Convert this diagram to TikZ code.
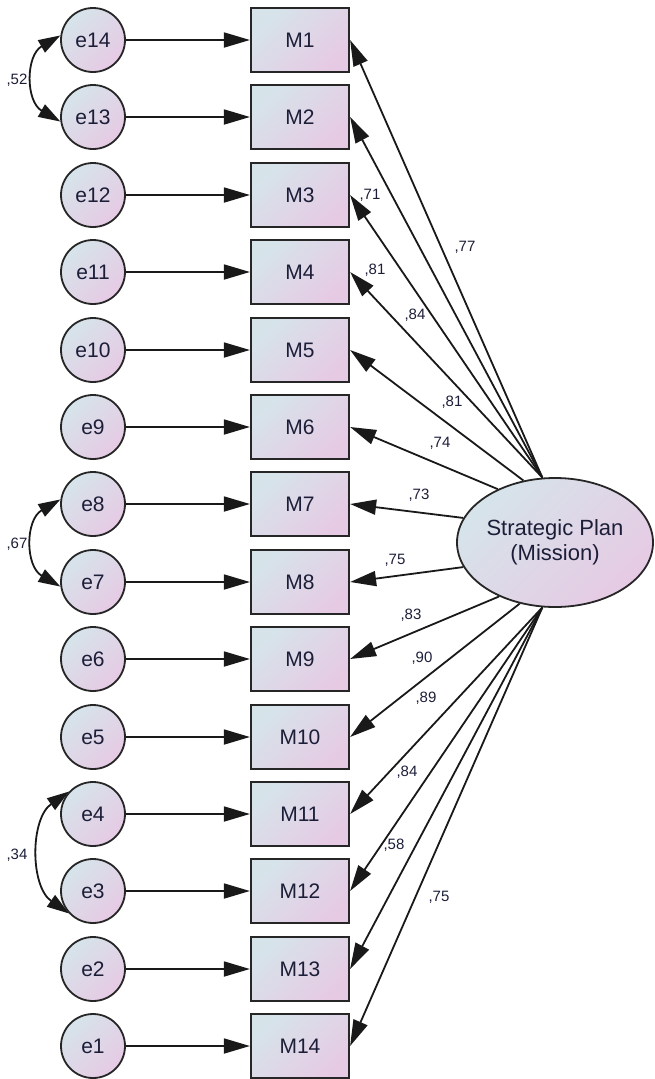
\documentclass[tikz,border=0pt]{standalone}
\usepackage{fontspec}
\setmainfont{Liberation Sans}
\usetikzlibrary{arrows.meta,shapes.geometric}

\definecolor{fillA}{RGB}{214,228,234}
\definecolor{fillB}{RGB}{230,202,228}
\definecolor{ink}{RGB}{28,30,56}
\definecolor{edge}{RGB}{38,38,38}

\tikzset{
  gradfill/.style={top color=fillA, bottom color=fillB, shading angle=45},
  obsbox/.style={draw=edge, line width=2.2pt, gradfill, minimum width=98pt,
    minimum height=64pt, inner sep=0pt, text=ink,
    font=\fontsize{21}{25}\selectfont},
  errnode/.style={circle, draw=edge, line width=1.8pt, gradfill,
    minimum size=64pt, inner sep=0pt, text=ink,
    font=\fontsize{21}{25}\selectfont},
  latent/.style={ellipse, draw=edge, line width=1.8pt, gradfill,
    minimum width=196pt, minimum height=129pt, inner sep=0pt, align=center,
    text=ink, font=\fontsize{22}{25}\selectfont},
  causal/.style={draw=black!90, line width=1.8pt,
    -{Triangle[length=26pt,width=15pt]}},
  covpath/.style={draw=black!90, line width=1.8pt,
    {Triangle[length=22pt,width=14pt]}-{Triangle[length=22pt,width=14pt]}},
  wt/.style={font=\fontsize{15}{17}\selectfont, text=ink, inner sep=0pt},
}

\begin{document}
\begin{tikzpicture}[x=1pt,y=1pt]
  \useasboundingbox (0,0) rectangle (655,-1079);

  % indicators M1..M14 with their error terms
  \foreach \i in {1,...,14} {
    \pgfmathsetmacro\yy{-round(40+(\i-1)*77.4)}
    \pgfmathtruncatemacro\ee{15-\i}
    \node[obsbox] (M\i) at (300,\yy) {M\i};
    \node[errnode] (e\ee) at (93,\yy) {e\ee};
    \draw[causal] (e\ee) -- (M\i);
  }

  % latent factor
  \node[latent] (F) at (555,-542.5) {Strategic Plan\\(Mission)};

  % factor loadings
  \foreach \m/\a in {1/101,2/101,3/101,4/101,5/117,6/137,7/165,8/195,
                     9/224,10/240,11/259,12/259,13/259,14/259}
    \draw[causal] (F.\a) -- (M\m.east);

  % standardized loading estimates
  \node[wt] (w1)  at (465,-247) {,77};
  \node[wt] (w3)  at (370,-195) {,71};
  \node[wt] (w4)  at (375,-270) {,81};
  \node[wt] (w2)  at (415,-315) {,84};
  \node[wt] (w5)  at (452,-402) {,81};
  \node[wt] (w6)  at (440,-443) {,74};
  \node[wt] (w7)  at (419,-495) {,73};
  \node[wt] (w8)  at (395,-560) {,75};
  \node[wt] (w9)  at (411,-615) {,83};
  \node[wt] (w10) at (422,-658) {,90};
  \node[wt] (w11) at (426,-698) {,89};
  \node[wt] (w12) at (407,-772) {,84};
  \node[wt] (w13) at (394,-845) {,58};
  \node[wt] (w14) at (439,-897) {,75};

  % error covariances
  \draw[covpath] (e14.172) to[out=210,in=150,looseness=1.2] (e13.188);
  \draw[covpath] (e8.172)  to[out=210,in=150,looseness=1.2] (e7.188);
  \draw[covpath] (e4.137)  to[out=215,in=145,looseness=1.0] (e3.223);
  \node[wt] (c1) at (17,-80)  {,52};
  \node[wt] (c2) at (17,-544) {,67};
  \node[wt] (c3) at (17,-855) {,34};
\end{tikzpicture}
\end{document}
